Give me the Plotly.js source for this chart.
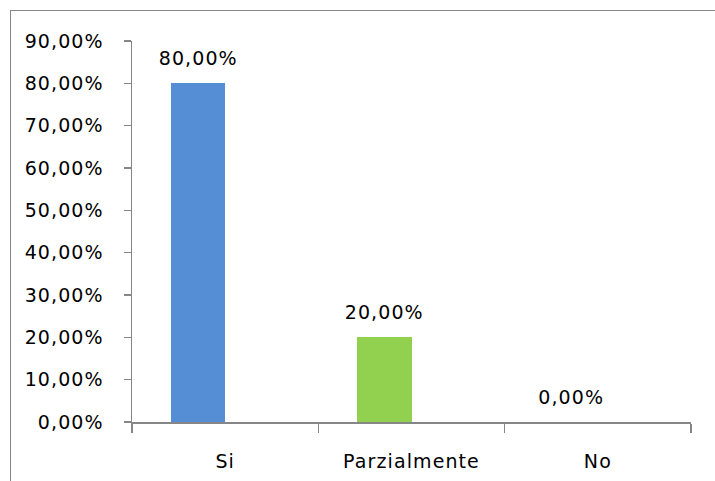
<!DOCTYPE html>
<html>
<head>
<meta charset="utf-8">
<script src="https://cdn.plot.ly/plotly-3.0.1.min.js"></script>
<style>
  html, body { margin: 0; padding: 0; background: #ffffff; }
  #wrap { position: relative; width: 715px; height: 481px; overflow: hidden; }
  #chart { position: absolute; left: 0; top: 0; width: 715px; height: 481px; }
  #frame { position: absolute; left: 10px; top: 10px; width: 720px; height: 490px;
           border-left: 1.5px solid #868686; border-top: 1.5px solid #868686; pointer-events: none; }
  #chart text { letter-spacing: 1.1px; }
</style>
</head>
<body>
<div id="wrap">
  <div id="chart"></div>
  <div id="frame"></div>
</div>
<script>
const categories = ["Si", "Parzialmente", "No"];
const values = [0.80, 0.20, 0.00];
const barColors = ["#558ED5", "#92D050", "#92D050"];
const valueLabels = ["80,00%", "20,00%", "0,00%"];

const FONT = "DejaVu Sans, sans-serif";
const FSIZE = 19;
const BAR_W = 0.29;

const trace = {
  type: "bar",
  x: categories,
  y: values,
  width: BAR_W,
  offset: -BAR_W,
  marker: { color: barColors, line: { width: 0 } },
  hoverinfo: "none"
};

const annotations = categories.map((c, i) => ({
  x: i - BAR_W / 2,
  y: values[i],
  xref: "x",
  yref: "y",
  text: valueLabels[i],
  showarrow: false,
  xanchor: "center",
  yanchor: "middle",
  yshift: 25,
  font: { family: FONT, size: FSIZE, color: "#000000" }
}));

const layout = {
  width: 715,
  height: 481,
  margin: { l: 132, r: 24, t: 41, b: 59 },
  paper_bgcolor: "rgba(0,0,0,0)",
  plot_bgcolor: "rgba(0,0,0,0)",
  separators: ",.",
  showlegend: false,
  bargap: 0,
  xaxis: {
    type: "category",
    tickson: "boundaries",
    ticks: "outside",
    ticklen: 9,
    tickcolor: "#868686",
    tickwidth: 1.5,
    showline: true,
    linecolor: "#868686",
    linewidth: 1.5,
    showgrid: false,
    zeroline: false,
    ticklabelstandoff: 22,
    tickfont: { family: FONT, size: FSIZE, color: "#000000" },
    fixedrange: true
  },
  yaxis: {
    range: [0, 0.9],
    dtick: 0.1,
    tick0: 0,
    tickformat: ".2%",
    ticks: "outside",
    ticklen: 7,
    tickcolor: "#868686",
    tickwidth: 1.5,
    showline: true,
    linecolor: "#868686",
    linewidth: 1.5,
    showgrid: false,
    zeroline: false,
    ticklabelstandoff: 16,
    tickfont: { family: FONT, size: FSIZE, color: "#000000" },
    fixedrange: true
  },
  annotations: annotations
};

Plotly.newPlot("chart", [trace], layout, { displayModeBar: false, staticPlot: true });
</script>
</body>
</html>
